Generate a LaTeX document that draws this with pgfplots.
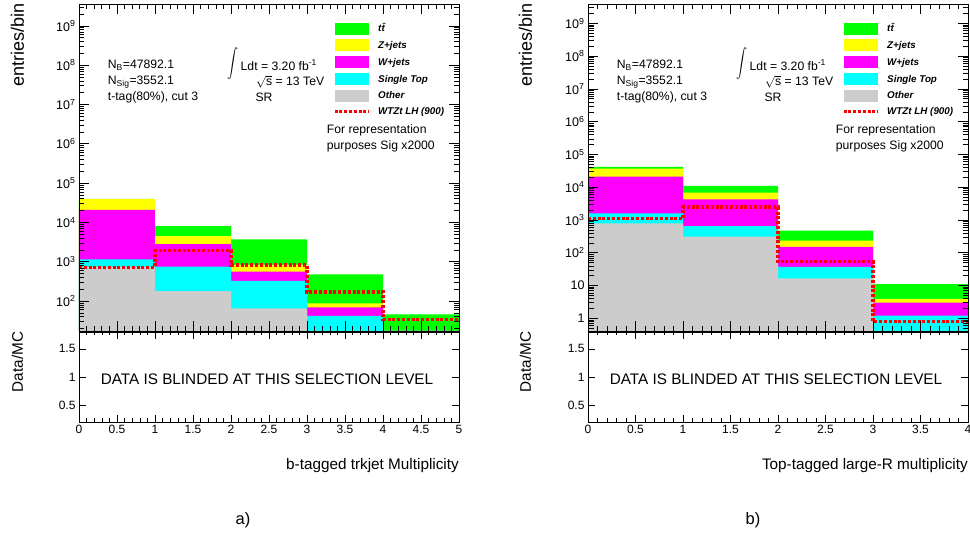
\documentclass[border=0pt]{standalone}
\usepackage{pgfplots}
\usepackage{pgfplotstable}
\pgfplotsset{compat=1.18}
\usepackage{fontspec}
\setmainfont{Liberation Sans}

\definecolor{cTT}{RGB}{0,255,0}
\definecolor{cZ}{RGB}{255,255,0}
\definecolor{cW}{RGB}{255,0,255}
\definecolor{cST}{RGB}{0,255,255}
\definecolor{cOth}{RGB}{204,204,204}
\definecolor{cSig}{RGB}{255,0,0}

\pgfkeys{/pgf/number format/assume math mode=true}

% Stack heights per bin: each column is the running total of that sample
% and every sample listed after it (tt = full background stack).
% The last row repeats the last bin so that the step closes at the right edge.
\pgfplotstableread{
x  tt     zj     wj     st    oth   sig
0  39500  39000  21000  1150  730   730
1  8100   4500   2800   750   180   1900
2  3700   830    560    325   65    830
3  480    87     69     42    8     170
4  46     2      1.5    1     0.5   34
5  46     2      1.5    1     0.5   34
}\btagtable

\pgfplotstableread{
x  tt     zj     wj     st    oth   sig
0  42000  37000  21000  1600  790   1100
1  11000  6900   4250   650   310   2500
2  470    233    152    37    16.6  53
3  11     3.9    3.0    1.2   0.3   0.79
4  11     3.9    3.0    1.2   0.3   0.79
}\toptagtable

\pgfplotsset{
  rootframe/.style={
    scale only axis, width=380pt,
    axis on top,
    axis line style={line width=0.9pt},
    tick align=inside, xtick pos=both, ytick pos=both,
    every tick/.style={black, line width=0.6pt},
    minor x tick num=4,
  },
  upperpad/.style={rootframe, height=327pt,
    xticklabels={}, major tick length=10pt, minor tick length=5.5pt,
    minor ytick={2e-1,3e-1,4e-1,5e-1,6e-1,7e-1,8e-1,9e-1,
      2,3,4,5,6,7,8,9,20,30,40,50,60,70,80,90,
      2e2,3e2,4e2,5e2,6e2,7e2,8e2,9e2,2e3,3e3,4e3,5e3,6e3,7e3,8e3,9e3,
      2e4,3e4,4e4,5e4,6e4,7e4,8e4,9e4,2e5,3e5,4e5,5e5,6e5,7e5,8e5,9e5,
      2e6,3e6,4e6,5e6,6e6,7e6,8e6,9e6,2e7,3e7,4e7,5e7,6e7,7e7,8e7,9e7,
      2e8,3e8,4e8,5e8,6e8,7e8,8e8,9e8,2e9,3e9},
    ticklabel style={font=\fontsize{12.5}{14}\selectfont},
    legend cell align=left,
    legend style={at={(0.668,0.944)}, anchor=north west, draw=none,
      fill=none, inner sep=0pt, row sep=4.9pt, column sep=8pt,
      font=\fontsize{9.8}{11}\selectfont\bfseries\itshape,
      nodes={inner sep=0pt}},
  },
  lowerpad/.style={rootframe, height=90pt, ymin=0.2, ymax=1.8,
    ytick={0.5,1,1.5}, major tick length=7pt, minor tick length=3.5pt,
    ticklabel style={font=\fontsize{12}{14}\selectfont}},
  stackfill/.style={const plot, fill=#1, draw=none,
    legend image code/.code={\fill[##1] (0pt,-6pt) rectangle (34pt,6pt);}},
  sigline/.style={const plot, draw=cSig, line width=3.2pt,
    dash pattern=on 3pt off 1.8pt,
    legend image code/.code={\draw[##1] (0pt,0pt) -- (34pt,0pt);}},
}

% Text block common to both panels (placed relative to the frame's left edge)
\newcommand\panelinfo{%
  \node[anchor=west, inner sep=0pt] at (28.7,473) {N\textsubscript{B}=47892.1};
  \node[anchor=west, inner sep=0pt] at (28.7,456.3) {N\textsubscript{Sig}=3552.1};
  \node[anchor=west, inner sep=0pt] at (28.7,440.3) {t-tag(80\%), cut 3};
  \node[anchor=east, inner sep=0pt, transform shape, xscale=1.1, yscale=1.45]
    at (160,474.5) {$\displaystyle\int$};
  \node[anchor=west, inner sep=0pt] at (161.5,473) {Ldt = 3.20 fb\textsuperscript{-1}};
  \node[anchor=west, inner sep=0pt] at (177,456.3) {$\sqrt{\mbox{s}}$ = 13 TeV};
  \node[anchor=west, inner sep=0pt] at (176.3,440.3) {SR};
  \node[anchor=west, inner sep=0pt] at (247.7,407.3) {For representation};
  \node[anchor=west, inner sep=0pt] at (247.7,391.3) {purposes Sig x2000};
}

\begin{document}
\begin{tikzpicture}[x=1pt, y=1pt]
\path[use as bounding box] (0,0) rectangle (970,538);

% ---------------- panel a) ----------------
\begin{axis}[upperpad, ymode=log, log origin=infty,
  at={(79pt,207pt)}, anchor=south west,
  xmin=0, xmax=5, xtick={0,0.5,...,5},
  ymin=17.3, ymax=3.6e9,
  ytick={1e2,1e3,1e4,1e5,1e6,1e7,1e8,1e9},
  yticklabels={10\textsuperscript{2},10\textsuperscript{3},10\textsuperscript{4},10\textsuperscript{5},10\textsuperscript{6},10\textsuperscript{7},10\textsuperscript{8},10\textsuperscript{9}}]
\addplot[stackfill=cTT] table[x=x, y=tt] {\btagtable} \closedcycle;
\addlegendentry{t\={t}}
\addplot[stackfill=cZ] table[x=x, y=zj] {\btagtable} \closedcycle;
\addlegendentry{Z+jets}
\addplot[stackfill=cW] table[x=x, y=wj] {\btagtable} \closedcycle;
\addlegendentry{W+jets}
\addplot[stackfill=cST] table[x=x, y=st] {\btagtable} \closedcycle;
\addlegendentry{Single Top}
\addplot[stackfill=cOth] table[x=x, y=oth] {\btagtable} \closedcycle;
\addlegendentry{Other}
\addplot[sigline] table[x=x, y=sig] {\btagtable};
\addlegendentry{WTZt LH (900)}
\end{axis}

\begin{axis}[lowerpad, at={(79pt,116pt)}, anchor=south west,
  xmin=0, xmax=5, xtick={0,0.5,...,5}]
\end{axis}

% ---------------- panel b) ----------------
\begin{axis}[upperpad, ymode=log, log origin=infty,
  at={(588pt,207pt)}, anchor=south west,
  xmin=0, xmax=4, xtick={0,0.5,...,4},
  ymin=0.41, ymax=3.9e9,
  ytick={1,10,1e2,1e3,1e4,1e5,1e6,1e7,1e8,1e9},
  yticklabels={1,10,10\textsuperscript{2},10\textsuperscript{3},10\textsuperscript{4},10\textsuperscript{5},10\textsuperscript{6},10\textsuperscript{7},10\textsuperscript{8},10\textsuperscript{9}}]
\addplot[stackfill=cTT] table[x=x, y=tt] {\toptagtable} \closedcycle;
\addlegendentry{t\={t}}
\addplot[stackfill=cZ] table[x=x, y=zj] {\toptagtable} \closedcycle;
\addlegendentry{Z+jets}
\addplot[stackfill=cW] table[x=x, y=wj] {\toptagtable} \closedcycle;
\addlegendentry{W+jets}
\addplot[stackfill=cST] table[x=x, y=st] {\toptagtable} \closedcycle;
\addlegendentry{Single Top}
\addplot[stackfill=cOth] table[x=x, y=oth] {\toptagtable} \closedcycle;
\addlegendentry{Other}
\addplot[sigline] table[x=x, y=sig] {\toptagtable};
\addlegendentry{WTZt LH (900)}
\end{axis}

\begin{axis}[lowerpad, at={(588pt,116pt)}, anchor=south west,
  xmin=0, xmax=4, xtick={0,0.5,...,4}]
\end{axis}

% ---------------- annotations ----------------
\begin{scope}[font=\fontsize{12.2}{14}\selectfont]
  \begin{scope}[xshift=79pt]\panelinfo\end{scope}
  \begin{scope}[xshift=588pt]\panelinfo\end{scope}
\end{scope}

\begin{scope}[font=\fontsize{15.3}{17}\selectfont]
  \node at (267,158.7) {DATA IS BLINDED AT THIS SELECTION LEVEL};
  \node at (776,158.7) {DATA IS BLINDED AT THIS SELECTION LEVEL};
  \node[anchor=east, inner sep=0pt] at (459,72.3) {b-tagged trkjet Multiplicity};
  \node[anchor=east, inner sep=0pt] at (968,72.3) {Top-tagged large-R multiplicity};
  \node[rotate=90, anchor=east, inner sep=0pt] at (17.5,206.3) {Data/MC};
  \node[rotate=90, anchor=east, inner sep=0pt] at (525.5,206.3) {Data/MC};
\end{scope}
\begin{scope}[font=\fontsize{18}{20}\selectfont]
  \node[rotate=90, anchor=east, inner sep=0pt] at (17.5,534.7) {entries/bin};
  \node[rotate=90, anchor=east, inner sep=0pt] at (525.5,534.7) {entries/bin};
\end{scope}
\begin{scope}[font=\fontsize{16.5}{18}\selectfont]
  \node at (243,18) {a)};
  \node at (753,18) {b)};
\end{scope}
\end{tikzpicture}
\end{document}
